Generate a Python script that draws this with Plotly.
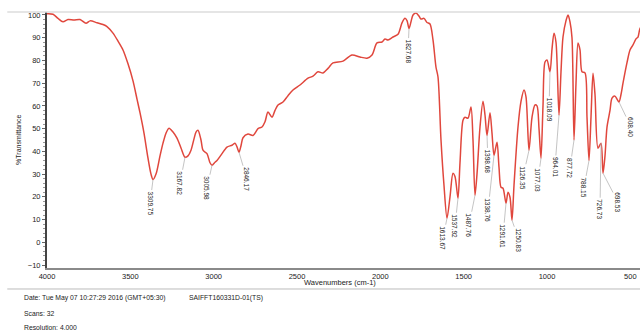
import numpy as np
import plotly.graph_objects as go

# Spectrum (wavenumber cm-1, %T)
wn = [4000, 3964, 3934, 3904, 3874, 3838, 3802, 3766, 3742, 3700, 3664, 3640, 3604, 3574, 3544,
      3514, 3484, 3460, 3442, 3418, 3394, 3376, 3364, 3346, 3322, 3304, 3286, 3268, 3244, 3220,
      3196, 3172, 3154, 3136, 3118, 3106, 3094, 3076, 3064, 3040, 3022, 3010, 2992, 2980, 2950,
      2920, 2890, 2872, 2860, 2848, 2836, 2824, 2794, 2764, 2734, 2710, 2692, 2674, 2650, 2632,
      2614, 2584, 2554, 2524, 2482, 2434, 2404, 2374, 2344, 2314, 2284, 2224, 2170, 2122, 2080,
      2050, 2020, 1990, 1972, 1954, 1924, 1894, 1870, 1852, 1840, 1828, 1816, 1804, 1786, 1768,
      1756, 1738, 1720, 1702, 1684, 1666, 1654, 1636, 1618, 1600, 1582, 1564, 1552, 1534, 1522,
      1504, 1492, 1474, 1456, 1444, 1432, 1420, 1402, 1384, 1372, 1360, 1342, 1330, 1318, 1300,
      1288, 1276, 1264, 1246, 1234, 1222, 1210, 1198, 1174, 1156, 1138, 1126, 1108, 1090, 1072,
      1060, 1048, 1036, 1024, 1012, 1000, 982, 970, 958, 946, 928, 916, 904, 886, 874,
      862, 850, 838, 826, 814, 802, 790, 772, 760, 748, 736, 724, 712, 694, 676,
      664, 652, 640, 622, 610, 592, 580, 568, 556, 544, 520, 502, 484, 466, 454,
      442, 412]
transmittance = [100.5, 100.3, 98.5, 97, 98, 97.8, 98, 96.3, 97.4, 96.6, 95.8, 94.9, 92, 88.5, 84.6,
                 78.5, 71, 63, 57, 48, 37, 30, 27.6, 30, 38, 43.6, 48, 50.2, 48.5, 45.8,
                 41.5, 37.4, 38, 40.5, 45.5, 48.5, 49.3, 45, 40.5, 39, 35, 33.9, 35.2, 36, 39,
                 41.9, 42.7, 43.6, 42, 39.6, 42.5, 46, 47.6, 47, 50, 50.7, 53, 57.3, 55, 58,
                 60.4, 61.7, 64.5, 67, 69.2, 72.2, 73.1, 75, 74.5, 76.5, 78.9, 79.7, 82.4, 81.5, 81,
                 82.4, 87.7, 88.1, 89.4, 89, 90.3, 91.5, 96.5, 98.5, 97.5, 94, 97, 100, 100.9, 99.5,
                 98.2, 98.5, 96.7, 96, 89, 77, 72.7, 45, 25, 10.6, 20, 30.4, 29, 19.4, 35,
                 53.7, 55, 54.6, 59.5, 45, 20.7, 30, 50.7, 62, 56, 47, 57, 48, 38.3, 44,
                 33, 24.2, 23.8, 17.2, 22, 19.8, 9.7, 25, 50.7, 62, 67, 64, 40.5, 55, 60.4,
                 60, 50, 37, 60, 79.3, 80.2, 75, 85, 92, 88, 56, 75, 90.3, 97.5, 100,
                 97, 90, 45, 70, 87.7, 84.6, 75, 74.5, 55, 36, 55, 74.4, 65, 41.4, 43.6,
                 30.4, 38, 50.7, 58, 63.4, 64.3, 63, 61.7, 65, 70, 79, 84.6, 86.8, 89.5, 90.3,
                 94, 97]

# Peak labels, where they sit on the drawn curve, and label offsets
peak_labels = ["3309.75", "3167.82", "3005.98", "2846.17", "1827.68", "1613.67", "1537.92",
               "1487.76", "1398.68", "1338.76", "1291.61", "1250.83", "1126.35", "1077.03",
               "1018.09", "964.01", "877.72", "788.15", "726.73", "698.53", "608.40"]
peak_wn = [3364, 3172, 3010, 2848, 1828, 1600, 1534, 1432, 1360, 1318, 1246, 1210, 1108, 1036,
           982, 928, 838, 748, 676, 664, 568]
label_dx = [-3, -5, -5, 8, -1, -4, -3, -6, 1, -6, -3, 7, -6, -3, -1, -4, -4, -5, -1, 15, 12]
label_dy = [24, 26, 23, 27, 23, 20, 28, 30, 26, 55, 33, 20, 27, 22, 38, 52, 28, 27, 66, 29, 25]

y_ticks = [100, 90, 80, 70, 60, 50, 40, 30, 20, 10, 0, -10]
x_ticks = [4000, 3500, 3000, 2500, 2000, 1500, 1000, 500]

FONT = "Liberation Sans, Arial, sans-serif"
TXT = "#222222"

fig = go.Figure()
fig.add_trace(go.Scatter(x=wn, y=transmittance, mode="lines",
                         line=dict(color="#e0473d", width=1.5, shape="spline", smoothing=0.8),
                         hoverinfo="skip"))

wn_sorted = np.array(wn[::-1], dtype=float)
t_sorted = np.array(transmittance[::-1], dtype=float)
for lab, pw, dx, dy in zip(peak_labels, peak_wn, label_dx, label_dy):
    pt = float(np.interp(pw, wn_sorted, t_sorted))
    fig.add_annotation(x=pw, y=pt, text=lab, textangle=90, showarrow=True,
                       arrowhead=0, arrowwidth=0.8, arrowcolor="#b5b5b5",
                       ax=dx, ay=dy, standoff=0, startstandoff=0,
                       font=dict(family=FONT, size=6.5, color=TXT))

# Axis titles and footer text
fig.add_annotation(xref="paper", yref="paper", x=-0.049, y=0.5, text="%Transmittance",
                   textangle=-90, showarrow=False, xanchor="center", yanchor="middle",
                   font=dict(family=FONT, size=7, color=TXT))
fig.add_annotation(xref="paper", yref="paper", x=0.494, y=-0.055, text="Wavenumbers (cm-1)",
                   showarrow=False, xanchor="center", yanchor="middle",
                   font=dict(family=FONT, size=7.5, color=TXT))
footer = [("Date: Tue May 07 10:27:29 2016 (GMT+05:30)", -0.042, -0.117),
          ("SAIFFT160331D-01(TS)", 0.236, -0.117),
          ("Scans: 32", -0.042, -0.176),
          ("Resolution: 4.000", -0.042, -0.234)]
for t, fx, fy in footer:
    fig.add_annotation(xref="paper", yref="paper", x=fx, y=fy, text=t, showarrow=False,
                       xanchor="left", yanchor="middle",
                       font=dict(family=FONT, size=6.8, color=TXT))

fig.add_shape(type="line", xref="paper", yref="paper", x0=-0.067, x1=1.0, y0=1.0, y1=1.0,
              line=dict(color="#dddddd", width=1.5))
fig.add_shape(type="line", xref="paper", yref="paper", x0=-0.067, x1=1.0, y0=-0.082, y1=-0.082,
              line=dict(color="#bbbbbb", width=1))

fig.update_layout(
    width=640, height=333,
    margin=dict(l=47, r=0, t=12, b=65),
    paper_bgcolor="white", plot_bgcolor="white",
    showlegend=False,
    xaxis=dict(range=[4000, 442], tickvals=x_ticks, showgrid=False, zeroline=False,
               showline=True, linecolor="#8a8a8a", linewidth=2, ticks="",
               tickfont=dict(family=FONT, size=7.5, color=TXT)),
    yaxis=dict(range=[-11.3, 101.3], tickvals=y_ticks, showgrid=False, zeroline=False,
               showline=True, linecolor="#444444", linewidth=2, ticks="outside",
               ticklen=3, tickcolor="#666666", tickwidth=1,
               minor=dict(dtick=2, ticks="outside", ticklen=2, tickcolor="#999999"),
               tickfont=dict(family=FONT, size=7.5, color=TXT)),
)

fig.write_html("out.html", config={"displayModeBar": False},
               post_script="document.body.style.margin='0';document.body.style.overflow='hidden';")
